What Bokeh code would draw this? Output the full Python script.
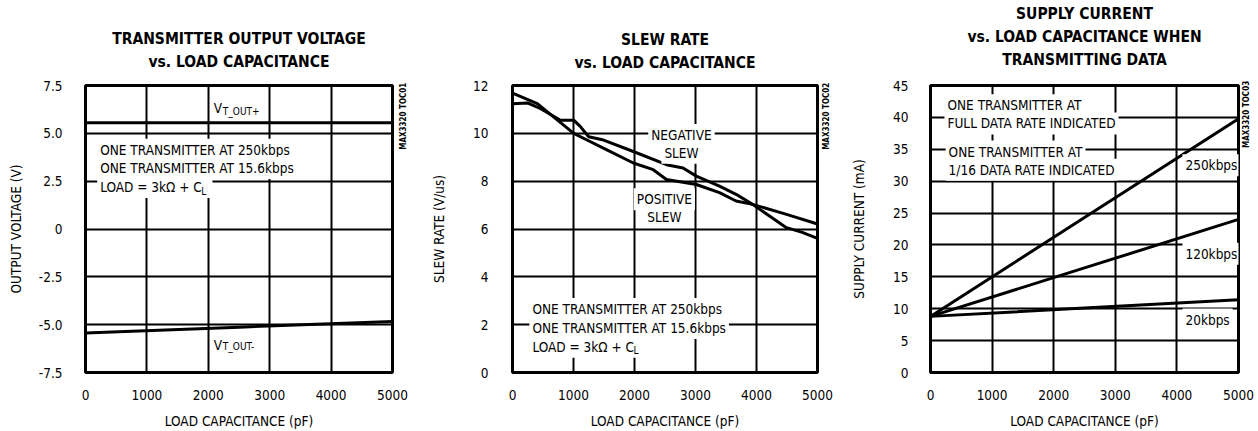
import math
from bokeh.plotting import figure
from bokeh.layouts import row
from bokeh.models import Label, Title, FixedTicker, Range1d, LinearAxis
from bokeh.embed import file_html
from bokeh.resources import INLINE

FONT = "DejaVu Sans Condensed, Liberation Sans, sans-serif"

# ---------------- data ----------------
x_ticks = [0, 1000, 2000, 3000, 4000, 5000]

# panel 1: transmitter output voltage
v_cap = [0, 2500, 5000]
v_out_pos = [5.55, 5.55, 5.55]
v_out_neg = [-5.43, -5.13, -4.83]
v_ticks = [-7.5, -5.0, -2.5, 0, 2.5, 5.0, 7.5]
v_tick_labels = ["-7.5", "-5.0", "-2.5", "0", "2.5", "5.0", "7.5"]

# panel 2: slew rate
pos_cap = [0, 407, 1004, 1221, 1547, 1981, 2307, 2524, 3013, 3393, 3665, 3936, 4479, 5000]
pos_slew = [11.68, 11.24, 10.0, 9.72, 9.31, 8.76, 8.48, 8.07, 7.86, 7.52, 7.17, 7.03, 6.62, 6.21]
neg_cap = [0, 244, 461, 787, 1004, 1113, 1249, 1493, 1981, 2524, 2796, 3013, 3393, 3665, 3936, 4207, 4479, 4750, 5000]
neg_slew = [11.24, 11.27, 11.03, 10.55, 10.55, 10.28, 9.86, 9.72, 9.24, 8.69, 8.55, 8.21, 7.79, 7.45, 7.03, 6.55, 6.07, 5.86, 5.61]
s_ticks = [0, 2, 4, 6, 8, 10, 12]

# panel 3: supply current
i_cap = [0, 2500, 5000]
i_250k = [8.8, 24.3, 39.8]
i_120k = [8.8, 16.4, 24.0]
i_20k = [8.8, 10.1, 11.4]
i_ticks = [0, 5, 10, 15, 20, 25, 30, 35, 40, 45]

TS = "13.5px"      # body text size
TITLE_S = "15.5px"


def make_fig(w, title_lines, ylabel, yr, yticks, ml, mr, mt, mb, y_std, yl_std,
             code, code_y, code_std, gap, ylabels=None):
    p = figure(width=w, height=431, x_range=Range1d(0, 5000), y_range=Range1d(*yr),
               output_backend="svg", toolbar_location=None,
               min_border_left=ml, min_border_right=mr, min_border_top=mt, min_border_bottom=mb,
               title=title_lines[0])

    def style_title(t, standoff):
        t.align = "center"
        t.text_font = FONT
        t.text_font_size = TITLE_S
        t.text_font_style = "bold"
        t.text_color = "black"
        t.standoff = standoff

    style_title(p.title, 3)
    # spacer between the frame and the title block
    p.add_layout(Title(text=" ", text_font_size="1px", standoff=gap), "above")
    for t in reversed(title_lines[1:]):
        tt = Title(text=t)
        style_title(tt, 3)
        p.add_layout(tt, "above")
    p.background_fill_color = "white"
    p.border_fill_color = "white"
    p.outline_line_color = "black"
    p.outline_line_width = 3
    for ax in (p.xaxis, p.yaxis):
        ax.major_tick_out = 0
        ax.major_tick_in = 0
        ax.minor_tick_out = 0
        ax.minor_tick_in = 0
        ax.axis_line_color = None
        ax.major_label_text_font = FONT
        ax.major_label_text_font_size = TS
        ax.major_label_text_color = "black"
        ax.axis_label_text_font = FONT
        ax.axis_label_text_font_size = TS
        ax.axis_label_text_font_style = "normal"
        ax.axis_label_text_color = "black"
    p.xaxis.ticker = FixedTicker(ticks=x_ticks)
    p.yaxis.ticker = FixedTicker(ticks=yticks)
    if ylabels:
        p.yaxis.major_label_overrides = dict(zip(yticks, ylabels))
    p.xaxis.axis_label = "LOAD CAPACITANCE (pF)"
    p.yaxis.axis_label = ylabel
    p.xaxis.major_label_standoff = 17
    p.xaxis.axis_label_standoff = 10
    p.yaxis.major_label_standoff = y_std
    p.yaxis.axis_label_standoff = yl_std
    p.xgrid.ticker = FixedTicker(ticks=x_ticks)
    p.ygrid.ticker = FixedTicker(ticks=yticks)
    for g in (p.xgrid, p.ygrid):
        g.grid_line_color = "black"
        g.grid_line_width = 2
        g.grid_line_alpha = 1
    # figure code written vertically at the right edge
    cax = LinearAxis(ticker=FixedTicker(ticks=[code_y]), major_label_overrides={code_y: code},
                     major_label_orientation=math.pi / 2, major_tick_out=0, major_tick_in=0,
                     minor_tick_out=0, minor_tick_in=0, axis_line_color=None,
                     major_label_standoff=code_std, major_label_text_font=FONT,
                     major_label_text_font_size="8px", major_label_text_font_style="bold",
                     major_label_text_color="black")
    p.add_layout(cax, "right")
    return p


def txt(p, x, y, text, size=TS, align="left", bg=True, style="normal", **kw):
    lab = Label(x=x, y=y, text=text, text_font=FONT, text_font_size=size,
                text_font_style=style, text_align=align, text_baseline="middle",
                text_color="black", **kw)
    if bg:
        lab.background_fill_color = "white"
        lab.padding = 3
    p.add_layout(lab)
    return lab


# ---------------- panel 1 ----------------
p1 = make_fig(419, ["TRANSMITTER OUTPUT VOLTAGE", "vs. LOAD CAPACITANCE"], "OUTPUT VOLTAGE (V)",
              (-7.5, 7.5), v_ticks, 85, 27, 85, 56, 23, 12,
              "MAX3320 TOC01", 4.14, 11, 10, v_tick_labels)
p1.line(v_cap, v_out_pos, line_color="black", line_width=3)
p1.line(v_cap, v_out_neg, line_color="black", line_width=3)
txt(p1, 190, 4.14, "ONE TRANSMITTER AT 250kbps")
txt(p1, 190, 3.19, "ONE TRANSMITTER AT 15.6kbps")
txt(p1, 190, 2.19, "LOAD = 3kΩ + C  ")
txt(p1, 190, 1.98, "L", size="10px", bg=False, x_offset=104)
txt(p1, 2090, 6.30, "V", bg=False)
txt(p1, 2090, 6.12, "T_OUT+", size="10px", bg=False, x_offset=9)
txt(p1, 2090, -6.04, "V", bg=False)
txt(p1, 2090, -6.16, "T_OUT-", size="10px", bg=False, x_offset=9)

# ---------------- panel 2 ----------------
p2 = make_fig(419, ["SLEW RATE", "vs. LOAD CAPACITANCE"], "SLEW RATE (V/us)",
              (0, 12), s_ticks, 93, 19, 82, 59, 24, 23,
              "MAX3320 TOC02", 9.31, 9, 9)
p2.line(pos_cap, pos_slew, line_color="black", line_width=3, line_join="round")
p2.line(neg_cap, neg_slew, line_color="black", line_width=3, line_join="round")
txt(p2, 2770, 9.93, "NEGATIVE", align="center")
txt(p2, 2770, 9.19, "SLEW", align="center")
txt(p2, 2490, 7.24, "POSITIVE", align="center")
txt(p2, 2490, 6.50, "SLEW", align="center")
txt(p2, 277, 2.65, "ONE TRANSMITTER AT  250kbps")
txt(p2, 277, 1.86, "ONE TRANSMITTER AT 15.6kbps")
txt(p2, 277, 1.08, "LOAD = 3kΩ + C  ")
txt(p2, 277, 0.91, "L", size="10px", bg=False, x_offset=104)

# ---------------- panel 3 ----------------
p3 = make_fig(420, ["SUPPLY CURRENT", "vs. LOAD CAPACITANCE WHEN", "TRANSMITTING DATA"],
              "SUPPLY CURRENT (mA)", (0, 45), i_ticks, 92, 20, 85, 56, 22, 23,
              "MAX3320 TOC03", 35.2, 8, 12)
p3.line(i_cap, i_250k, line_color="black", line_width=3)
p3.line(i_cap, i_120k, line_color="black", line_width=3)
p3.line(i_cap, i_20k, line_color="black", line_width=3)
txt(p3, 227, 41.9, "ONE TRANSMITTER AT")
txt(p3, 227, 39.05, "FULL DATA RATE INDICATED")
txt(p3, 245, 34.65, "ONE TRANSMITTER AT")
txt(p3, 245, 31.8, "1/16 DATA RATE INDICATED")
txt(p3, 4090, 32.5, "250kbps")
txt(p3, 4090, 18.6, "120kbps")
txt(p3, 4090, 8.3, "20kbps")

layout = row(p1, p2, p3)
open("out.html", "w").write(file_html(layout, INLINE))
